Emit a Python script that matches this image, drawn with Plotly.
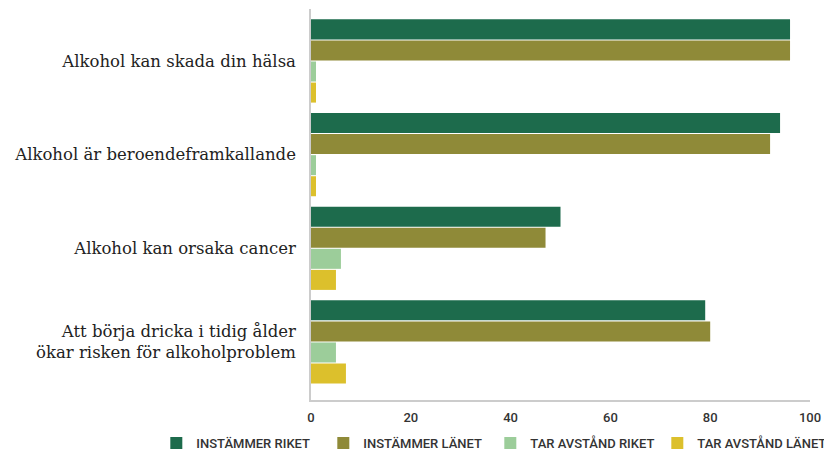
import plotly.graph_objects as go

statements = [
    "Alkohol kan skada din hälsa",
    "Alkohol är beroendeframkallande",
    "Alkohol kan orsaka cancer",
    "Att börja dricka i tidig ålder<br>ökar risken för alkoholproblem",
]
instammer_riket = [96, 94, 50, 79]
instammer_lanet = [96, 92, 47, 80]
tar_avstand_riket = [1, 1, 6, 5]
tar_avstand_lanet = [1, 1, 5, 7]

series = [
    ("Instämmer riket", instammer_riket, "#1d6b4c"),
    ("Instämmer länet", instammer_lanet, "#8f8a38"),
    ("Tar avstånd riket", tar_avstand_riket, "#9ccd9a"),
    ("Tar avstånd länet", tar_avstand_lanet, "#dcc02c"),
]

fig = go.Figure()
for name, vals, color in series:
    fig.add_trace(
        go.Bar(
            x=vals,
            y=statements,
            name=name,
            orientation="h",
            marker=dict(color=color, line_width=0),
        )
    )

# the page body adds an 8px offset, so the figure is sized 8px smaller
fig.update_layout(
    width=824,
    height=447,
    margin=dict(l=303, r=22, t=1, b=55, autoexpand=False),
    paper_bgcolor="white",
    plot_bgcolor="white",
    barmode="group",
    bargap=0.1,
    bargroupgap=0.05,
    showlegend=True,
    legend=dict(
        orientation="h",
        x=-0.31,
        xanchor="left",
        y=-0.072,
        yanchor="top",
        font=dict(family="Roboto", size=13, color="#333", textcase="upper", weight=500),
        itemwidth=30,
        entrywidth=122,
        traceorder="normal",
    ),
    xaxis=dict(
        range=[0, 100],
        tickvals=[0, 20, 40, 60, 80, 100],
        showgrid=False,
        zeroline=False,
        showline=True,
        linecolor="#cccccc",
        linewidth=1.5,
        ticklabelstandoff=5,
        tickfont=dict(family="Roboto", size=13, color="#333", weight=500),
    ),
    yaxis=dict(
        categoryorder="array",
        categoryarray=statements,
        range=[3.62, -0.555],
        showgrid=False,
        zeroline=False,
        showline=True,
        linecolor="#cccccc",
        linewidth=1.5,
        ticklabelstandoff=10,
        tickfont=dict(family="DejaVu Serif", size=16.5, color="#222"),
    ),
)

fig.write_html("out.html")
